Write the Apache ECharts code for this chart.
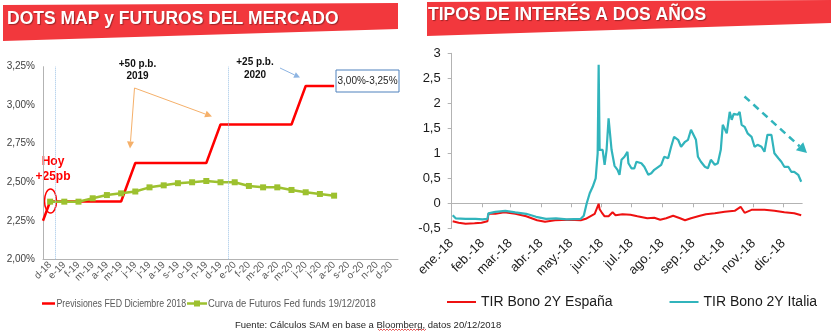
<!DOCTYPE html>
<html><head><meta charset="utf-8">
<script src="https://cdn.jsdelivr.net/npm/echarts@6/dist/echarts.min.js"></script>
<style>html,body{margin:0;padding:0;background:#fff}#c{width:838px;height:336px}</style>
</head><body><div id="c"></div>
<script>
// ---------- Left chart: Fed dots vs futures ----------
const fedMonths = ['d-18','e-19','f-19','m-19','a-19','m-19','j-19','j-19','a-19','s-19','o-19','n-19','d-19','e-20','f-20','m-20','a-20','m-20','j-20','j-20','a-20','s-20','o-20','n-20','d-20'];
const fedStart = 2.25;
const fedDots = [2.375,2.375,2.375,2.375,2.375,2.375,2.625,2.625,2.625,2.625,2.625,2.625,2.875,2.875,2.875,2.875,2.875,2.875,3.125,3.125,3.125];
const futures = [2.374,2.374,2.374,2.396,2.417,2.428,2.44,2.467,2.48,2.494,2.50,2.508,2.50,2.50,2.476,2.467,2.467,2.45,2.435,2.424,2.413];
const yearDividers = [0.35, 12.55];
const leftNames = ['Previsiones FED Diciembre 2018', 'Curva de Futuros Fed funds 19/12/2018'];

// ---------- Right chart: 2Y yields ----------
const monthAbbr = ['ene.','feb.','mar.','abr.','may.','jun.','jul.','ago.','sep.','oct.','nov.','dic.'];
const italyDates = ['01-02','01-05','01-15','01-25','02-01','02-06','02-07','02-14','02-24','03-06','03-17','03-27','04-06','04-16','04-27','05-11','05-14','05-17','05-20','05-23','05-26','05-28','05-29','05-30','06-02','06-04','06-06','06-08','06-10','06-11','06-14','06-17','06-19','06-21','06-24','06-27','06-28','07-01','07-04','07-06','07-11','07-14','07-18','07-21','07-24','07-31','08-03','08-07','08-10','08-13','08-17','08-20','08-24','08-27','08-30','09-01','09-04','09-06','09-09','09-13','09-16','09-19','09-23','09-26','09-29','10-01','10-05','10-08','10-10','10-12','10-16','10-18','10-20','10-23','10-26','10-30','11-02','11-05','11-09','11-12','11-15','11-19','11-22','11-26','11-29','12-02','12-06','12-09','12-12','12-16','12-19'];
const italyValues = [-0.24,-0.30,-0.31,-0.31,-0.32,-0.31,-0.20,-0.17,-0.15,-0.18,-0.21,-0.27,-0.31,-0.30,-0.32,-0.31,-0.25,0.00,0.20,0.33,0.50,1.00,2.77,1.07,1.07,0.77,1.07,1.70,1.71,1.07,0.75,0.67,0.57,0.87,0.93,1.03,0.80,0.70,0.70,0.83,0.80,0.73,0.57,0.60,0.67,0.77,0.93,0.90,1.13,1.33,1.27,1.13,1.23,1.27,1.47,1.48,1.27,0.93,0.83,0.73,0.70,0.87,0.77,0.80,1.07,1.57,1.40,1.83,1.67,1.79,1.77,1.83,1.57,1.53,1.40,1.33,1.13,1.17,1.13,1.03,1.37,1.37,1.00,0.90,0.83,0.73,0.73,0.63,0.63,0.57,0.43];
const spainDates = ['01-02','01-08','01-15','01-24','01-31','02-06','02-07','02-14','02-23','03-06','03-17','03-28','04-05','04-15','04-29','05-11','05-16','05-25','05-29','05-30','06-01','06-04','06-08','06-12','06-15','06-22','06-30','07-07','07-17','07-24','07-30','08-05','08-12','08-19','08-24','08-30','09-08','09-14','09-23','10-03','10-13','10-19','10-23','10-30','11-12','11-22','12-02','12-12','12-19'];
const spainValues = [-0.36,-0.39,-0.41,-0.40,-0.39,-0.36,-0.21,-0.21,-0.18,-0.21,-0.26,-0.34,-0.37,-0.34,-0.33,-0.34,-0.31,-0.21,-0.01,-0.12,-0.18,-0.26,-0.26,-0.18,-0.24,-0.22,-0.23,-0.26,-0.30,-0.29,-0.33,-0.30,-0.25,-0.30,-0.34,-0.30,-0.25,-0.22,-0.20,-0.17,-0.15,-0.07,-0.19,-0.13,-0.13,-0.15,-0.18,-0.20,-0.24];

// calendar days of 2018 (Jan 1 .. Dec 20) for the category axis
const days = [];
for (let d = new Date(Date.UTC(2018,0,1)); d <= new Date(Date.UTC(2018,11,20)); d.setUTCDate(d.getUTCDate()+1)) {
  days.push(String(d.getUTCMonth()+1).padStart(2,'0') + '-' + String(d.getUTCDate()).padStart(2,'0'));
}
const isMonthStart = (i, v) => v.slice(3) === '01';

const FONT = 'Liberation Sans, Arial, sans-serif';
const RED = '#ff0000';
const TEAL = '#31b4bc';
const GREEN = '#9dc12f';
const AXIS = '#b3b3b3';

function arrow(x1,y1,x2,y2,color,w,dash,hl,hw){
  const a = Math.atan2(y2-y1, x2-x1);
  const bx = x2 - hl*Math.cos(a), by = y2 - hl*Math.sin(a);
  const nx = -Math.sin(a), ny = Math.cos(a);
  return [
    {type:'line', silent:true, shape:{x1:x1,y1:y1,x2:bx,y2:by}, style:{stroke:color,lineWidth:w,lineDash:dash||null}},
    {type:'polygon', silent:true, shape:{points:[[x2,y2],[bx+nx*hw,by+ny*hw],[bx-nx*hw,by-ny*hw]]}, style:{fill:color}}
  ];
}
function txt(x,y,t,size,color,weight,align){
  return {type:'text', silent:true, x:x, y:y, style:{text:t, fontSize:size, fontFamily:FONT, fontWeight:weight||'normal', fill:color, align:align||'center', verticalAlign:'middle'}};
}
function narrowTxt(x,y,t,scale){
  return {type:'text', silent:true, x:x, y:y, scaleX:scale, style:{text:t, fontSize:11, fontFamily:FONT, fill:'#595959', align:'left', verticalAlign:'middle'}};
}
const wave = [];
for (let x = 378, k = 0; x <= 427; x += 1.5, k++) wave.push([x, 329.5 + (k % 2 ? 1 : -0.5)]);

const chart = echarts.init(document.getElementById('c'), null, {renderer:'canvas'});
chart.setOption({
  animation: false,
  backgroundColor: '#fff',
  grid: [
    {left: 43, top: 66.7, width: 355, height: 192.6, containLabel: false},
    {left: 451.7, top: 53.3, width: 350.5, height: 175, containLabel: false}
  ],
  xAxis: [
    {type:'category', gridIndex:0, data: fedMonths, boundaryGap:true,
     axisLine:{lineStyle:{color:AXIS,width:1}}, axisTick:{show:false},
     axisLabel:{interval:0, rotate:45, fontSize:10, color:'#595959', fontFamily:FONT, margin:4}},
    {type:'value', gridIndex:0, min:-0.5, max:24.5, show:false},
    {type:'category', gridIndex:1, data: days, boundaryGap:false, position:'bottom',
     axisLine:{show:false, onZero:false}, axisTick:{show:false}, splitLine:{show:false},
     axisLabel:{interval:isMonthStart, rotate:45, fontSize:13, color:'#1a1a1a', fontFamily:FONT, margin:13,
       formatter: v => monthAbbr[+v.slice(0,2)-1] + '-18'}},
    {type:'category', gridIndex:1, data: days, boundaryGap:false, position:'bottom',
     axisLine:{show:true, onZero:true, lineStyle:{color:AXIS,width:1}},
     axisTick:{show:true, interval:isMonthStart, length:4, lineStyle:{color:AXIS}},
     axisLabel:{show:false}, splitLine:{show:false}}
  ],
  yAxis: [
    {type:'value', gridIndex:0, min:2, max:3.25, interval:0.25,
     axisLine:{show:true, onZero:false, lineStyle:{color:AXIS}}, axisTick:{show:false}, splitLine:{show:false},
     axisLabel:{fontSize:10, color:'#404040', fontFamily:FONT, margin:8,
       formatter: v => v.toFixed(2).replace('.', ',') + '%'}},
    {type:'value', gridIndex:1, min:-0.5, max:3, interval:0.5,
     axisLine:{show:true, onZero:false, lineStyle:{color:AXIS}}, axisTick:{show:true, length:4, lineStyle:{color:AXIS}},
     splitLine:{show:false},
     axisLabel:{fontSize:13, color:'#1a1a1a', fontFamily:FONT, margin:11,
       formatter: v => String(v).replace('.', ',')}}
  ],
  legend: [
    {left: 446, top: 295, padding: 0, itemWidth: 29, itemHeight: 10, itemGap: 56,
     textStyle:{fontSize:14, color:'#1a1a1a', fontFamily:FONT},
     data:[{name:'TIR Bono 2Y España', itemStyle:{opacity:0}}, {name:'TIR Bono 2Y Italia', itemStyle:{opacity:0}}]}
  ],
  series: [
    {name:leftNames[0], type:'line', xAxisIndex:1, yAxisIndex:0,
     data: [[-0.5, fedStart]].concat(fedDots.map((v,i)=>[i,v])),
     symbol:'none', color:RED, lineStyle:{width:2.5, color:RED}, z:2,
     markLine:{silent:true, symbol:'none', label:{show:false},
       lineStyle:{type:'dotted', color:'#9dc3e6', width:1},
       data: yearDividers.map(x => ({xAxis:x}))}},
    {name:leftNames[1], type:'line', xAxisIndex:0, yAxisIndex:0,
     data: futures, symbol:'rect', symbolSize:6, color:GREEN,
     lineStyle:{width:2.5, color:GREEN}, itemStyle:{color:GREEN}, z:3},
    {name:'TIR Bono 2Y España', type:'line', xAxisIndex:2, yAxisIndex:1,
     data: spainDates.map((d,i)=>[days.indexOf(d), spainValues[i]]),
     symbol:'none', color:'#ee1111', lineStyle:{width:2, color:'#ee1111'}},
    {name:'TIR Bono 2Y Italia', type:'line', xAxisIndex:2, yAxisIndex:1,
     data: italyDates.map((d,i)=>[days.indexOf(d), italyValues[i]]),
     symbol:'none', color:TEAL, lineStyle:{width:2.2, color:TEAL}}
  ],
  graphic: [].concat(
    [
      {type:'polygon', silent:true, shape:{points:[[3,5],[398,3],[398,29],[3,41]]}, style:{fill:'#f2383d'}},
      {type:'polygon', silent:true, shape:{points:[[427,2],[831,0],[831,23],[427,36]]}, style:{fill:'#f2383d'}},
      {type:'text', silent:true, x:7, y:19.5, style:{text:'DOTS MAP y FUTUROS DEL MERCADO', fontSize:17.5, fontWeight:'bold', fontFamily:FONT, fill:'#fff', verticalAlign:'middle', textShadowColor:'rgba(0,0,0,0.35)', textShadowBlur:1, textShadowOffsetX:1, textShadowOffsetY:1}},
      {type:'text', silent:true, x:428, y:15, style:{text:'TIPOS DE INTERÉS A DOS AÑOS', fontSize:17.5, fontWeight:'bold', fontFamily:FONT, fill:'#fff', verticalAlign:'middle', textShadowColor:'rgba(0,0,0,0.35)', textShadowBlur:1, textShadowOffsetX:1, textShadowOffsetY:1}},
      txt(53, 161.5, 'Hoy', 12, RED, 'bold'),
      txt(53, 176.5, '+25pb', 12, RED, 'bold'),
      {type:'ellipse', silent:true, shape:{cx:50.5, cy:201, rx:6, ry:12}, style:{fill:null, stroke:RED, lineWidth:1.5}},
      txt(137.5, 64.5, '+50 p.b.', 10, '#111', 'bold'),
      txt(137.5, 76.5, '2019', 10, '#111', 'bold'),
      txt(255, 62.5, '+25 p.b.', 10, '#111', 'bold'),
      txt(255, 75, '2020', 10, '#111', 'bold'),
      {type:'rect', silent:true, shape:{x:336, y:70, width:63, height:22}, style:{fill:'#fff', stroke:'#4f81bd', lineWidth:1}},
      txt(367.5, 81, '3,00%-3,25%', 10, '#262626', 'normal'),
      // left legend (narrow font emulated)
      {type:'line', silent:true, shape:{x1:42, y1:303.5, x2:55, y2:303.5}, style:{stroke:RED, lineWidth:2.5}},
      narrowTxt(56.5, 303.5, leftNames[0], 0.8),
      {type:'line', silent:true, shape:{x1:187, y1:303.5, x2:207, y2:303.5}, style:{stroke:GREEN, lineWidth:2.5}},
      {type:'rect', silent:true, shape:{x:194, y:300.5, width:6, height:6}, style:{fill:GREEN}},
      narrowTxt(208, 303.5, leftNames[1], 0.86),
      txt(235, 325, 'Fuente: Cálculos SAM en base a Bloomberg, datos 20/12/2018', 9.5, '#262626', 'normal', 'left'),
      {type:'polyline', silent:true, shape:{points:wave}, style:{stroke:'#e03030', lineWidth:0.8, fill:null}}
    ],
    arrow(134.5, 88, 130, 148.5, '#f5b06a', 1, null, 7, 3.5),
    arrow(134.5, 88, 212, 116.5, '#f5b06a', 1, null, 7, 3.5),
    arrow(280, 68, 300, 77.5, '#8db4e2', 1, null, 6, 3),
    arrow(744.5, 96.5, 807, 153, TEAL, 2.5, [7,5], 10, 5.5)
  )
});
</script>
</body></html>
